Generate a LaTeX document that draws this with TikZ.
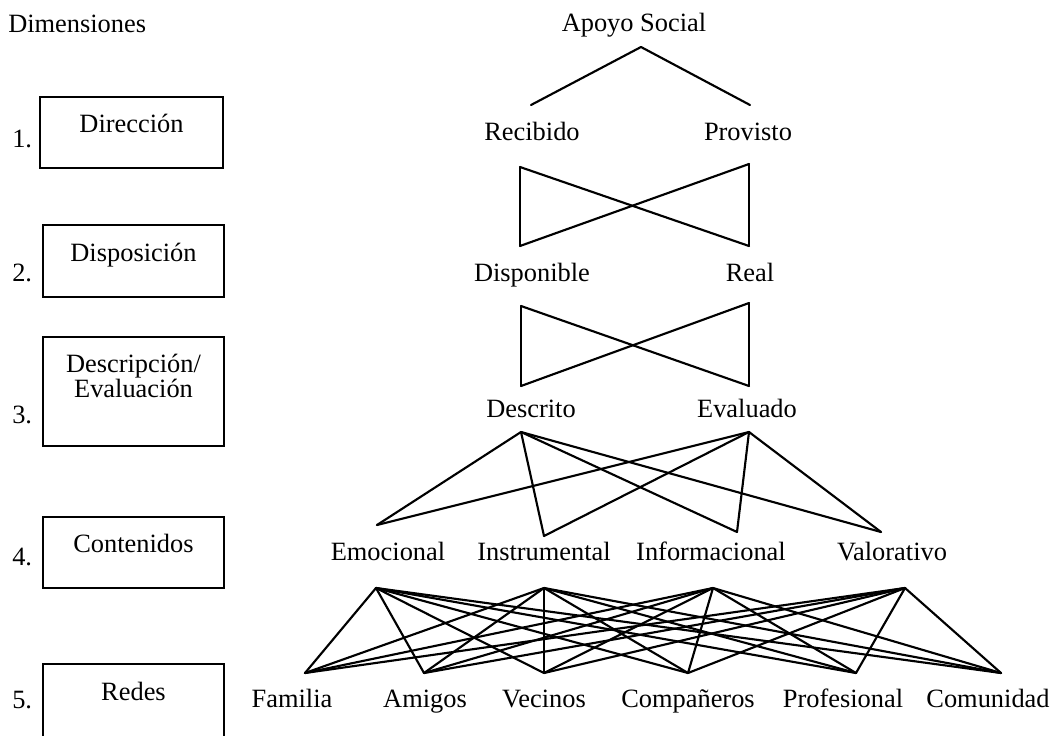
\documentclass[tikz,border=0pt]{standalone}
\usepackage{fontspec}
\setmainfont{Liberation Serif}
\begin{document}
\begin{tikzpicture}[x=0.75pt,y=-0.75pt,
  lbl/.style={font=\fontsize{19.8}{18.2}\selectfont, inner sep=0pt, anchor=base},
  dimbox/.style={draw, line width=1.6pt},
  link/.style={line width=1.6pt, line cap=round, line join=round}]
\useasboundingbox (0,0) rectangle (1056,735);

% --- left column: dimensions ---
\node[lbl, anchor=base west] (dimtitle) at (8,33) {Dimensiones};

\draw[dimbox] (40,97) rectangle (223,168);
\node[lbl] (d1) at (131.5,132) {Dirección};
\node[lbl, anchor=base west] (n1) at (12,147) {1.};

\draw[dimbox] (43,225) rectangle (224,297);
\node[lbl] (d2) at (133.5,261) {Disposición};
\node[lbl, anchor=base west] (n2) at (12,281) {2.};

\draw[dimbox] (43,337) rectangle (224,446);
\node[lbl, align=center] (d3) at (133.5,397) {Descripción/\\Evaluación};
\node[lbl, anchor=base west] (n3) at (12,423) {3.};

\draw[dimbox] (43,517) rectangle (224,588);
\node[lbl] (d4) at (133.5,552) {Contenidos};
\node[lbl, anchor=base west] (n4) at (12,565) {4.};

\draw[dimbox] (43,664) rectangle (224,745);
\node[lbl] (d5) at (133.5,700) {Redes};
\node[lbl, anchor=base west] (n5) at (12,708) {5.};

% --- tree labels ---
\node[lbl] (apoyo) at (634,32) {Apoyo Social};
\node[lbl] (rec) at (532,140) {Recibido};
\node[lbl] (pro) at (748,140) {Provisto};
\node[lbl] (dis) at (532,281) {Disponible};
\node[lbl] (rea) at (750,281) {Real};
\node[lbl] (des) at (531,417) {Descrito};
\node[lbl] (eva) at (747,417) {Evaluado};
\node[lbl] (emo) at (388,560) {Emocional};
\node[lbl] (ins) at (544,560) {Instrumental};
\node[lbl] (inf) at (711,560) {Informacional};
\node[lbl] (val) at (892,560) {Valorativo};
\node[lbl] (fam) at (292,707) {Familia};
\node[lbl] (ami) at (425,707) {Amigos};
\node[lbl] (vec) at (544,707) {Vecinos};
\node[lbl] (com) at (688,707) {Compañeros};
\node[lbl] (prf) at (843,707) {Profesional};
\node[lbl] (cmu) at (988,707) {Comunidad};

% --- connector end points ---
\coordinate (apoyoB) at (641,47);
\coordinate (recT) at (531,105);
\coordinate (proT) at (750,105);

\coordinate (recB) at (520,167);
\coordinate (proB) at (749,164);
\coordinate (disT) at (520,246);
\coordinate (reaT) at (749,246);

\coordinate (disB) at (521,306);
\coordinate (reaB) at (749,303);
\coordinate (desT) at (521,386);
\coordinate (evaT) at (749,386);

\coordinate (desB) at (521,432);
\coordinate (evaB) at (749,432);
\coordinate (emoT) at (377,525);
\coordinate (insT) at (544,536);
\coordinate (infT) at (737,532);
\coordinate (valT) at (881,532);

\coordinate (emoB) at (376,588);
\coordinate (insB) at (544,588);
\coordinate (infB) at (713,588);
\coordinate (valB) at (905,588);
\coordinate (famT) at (305,673);
\coordinate (amiT) at (424,673);
\coordinate (vecT) at (544,673);
\coordinate (comT) at (688,673);
\coordinate (prfT) at (856,673);
\coordinate (cmuT) at (1001,673);

% --- level 1: Apoyo Social -> Recibido / Provisto ---
\draw[link] (recT) -- (apoyoB) -- (proT);

% --- level 2: bow tie ---
\draw[link] (recB) -- (disT);
\draw[link] (proB) -- (reaT);
\draw[link] (recB) -- (reaT);
\draw[link] (proB) -- (disT);

% --- level 3: bow tie ---
\draw[link] (disB) -- (desT);
\draw[link] (reaB) -- (evaT);
\draw[link] (disB) -- (evaT);
\draw[link] (reaB) -- (desT);

% --- level 4: Descrito / Evaluado -> contents ---
\foreach \s in {desB,evaB}
  \foreach \t in {emoT,insT,infT,valT}
    \draw[link] (\s) -- (\t);

% --- level 5: contents -> networks ---
\foreach \s in {emoB,insB,infB,valB}
  \foreach \t in {famT,amiT,vecT,comT,prfT,cmuT}
    \draw[link] (\s) -- (\t);
\end{tikzpicture}
\end{document}
